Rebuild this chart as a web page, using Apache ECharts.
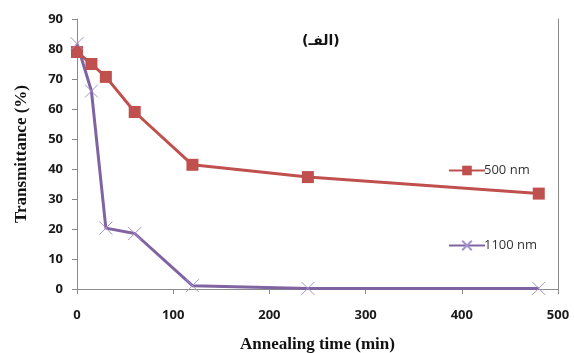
<!DOCTYPE html>
<html><head><meta charset="utf-8">
<script src="https://cdn.jsdelivr.net/npm/echarts@6/dist/echarts.min.js"></script>
<style>html,body{margin:0;padding:0;background:#fff}#c{width:574px;height:353px}</style>
</head><body><div id="c"></div>
<script>
const timesMin = [0, 15, 30, 60, 120, 240, 480];
const t500 = [79, 75, 70.7, 59, 41.4, 37.3, 31.8];
const t1100 = [81.8, 66, 20.3, 18.5, 1.1, 0.2, 0.2];
const seriesNames = ['500 nm', '1100 nm'];
const xTitle = 'Annealing time (min)';
const yTitle = 'Transmittance (%)';
const panelLabel = '(الفـ)';

const chart = echarts.init(document.getElementById('c'));
const axisGray = '#8a8a8a';
const tickFont = {fontFamily: 'Open Sans', fontWeight: 'bold', fontSize: 13, color: '#1a1a1a'};
chart.setOption({
  animation: false,
  grid: {left: 77, right: 16, top: 19, bottom: 64, outerBoundsMode: 'none', containLabel: false},
  legend: {
    data: seriesNames, orient: 'vertical', left: 443, top: 159, itemGap: 62,
    itemWidth: 36, itemHeight: 12,
    textStyle: {fontFamily: 'Open Sans', fontSize: 13, color: '#333', padding: [0,0,0,-6]}
  },
  xAxis: {
    type: 'value', min: 0, max: 500, interval: 100,
    axisLine: {lineStyle: {color: axisGray, width: 1}},
    axisTick: {show: true, length: 5, lineStyle: {color: axisGray}},
    splitLine: {show: false},
    axisLabel: Object.assign({margin: 20}, tickFont),
    name: xTitle, nameLocation: 'middle', nameGap: 47,
    nameTextStyle: {fontFamily: 'Liberation Serif', fontWeight: 'bold', fontSize: 17, color: '#111'}
  },
  yAxis: [{
    type: 'value', min: 0, max: 90, interval: 10,
    axisLine: {show: true, lineStyle: {color: axisGray, width: 1}},
    axisTick: {show: true, length: 5, lineStyle: {color: axisGray}},
    splitLine: {show: false},
    axisLabel: Object.assign({margin: 14}, tickFont),
    name: yTitle, nameLocation: 'middle', nameGap: 47,
    nameTextStyle: {fontFamily: 'Liberation Serif', fontWeight: 'bold', fontSize: 17, color: '#111'}
  }, {
    type: 'value', min: 0, max: 90, interval: 10, position: 'right',
    axisLine: {show: true, lineStyle: {color: axisGray, width: 1}},
    axisTick: {show: false}, axisLabel: {show: false}, splitLine: {show: false}
  }],
  graphic: [{
    type: 'text', left: 302, top: 34,
    style: {text: panelLabel, font: 'bold 14px "DejaVu Sans"', fill: '#111'}
  }],
  series: [{
    name: seriesNames[0], type: 'line',
    data: timesMin.map((t, i) => [t, t500[i]]),
    symbol: 'rect', symbolSize: 12,
    lineStyle: {color: '#C0504D', width: 3},
    itemStyle: {color: '#C0504D'}
  }, {
    name: seriesNames[1], type: 'line',
    data: timesMin.map((t, i) => [t, t1100[i]]),
    symbol: 'path://M0,0L10,10M10,0L0,10', symbolSize: 13,
    lineStyle: {color: '#8064A2', width: 3},
    itemStyle: {color: '#8064A2', borderColor: '#A592CC', borderWidth: 1}
  }]
});
</script></body></html>
